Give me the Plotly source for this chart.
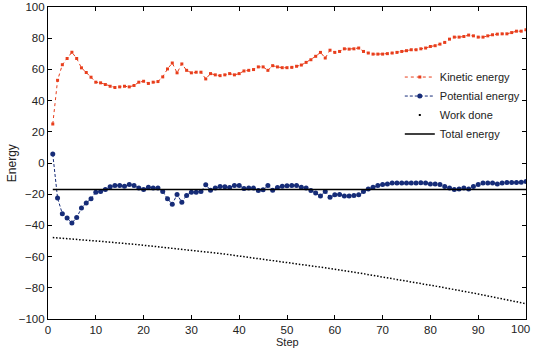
import plotly.graph_objects as go

steps = list(range(1, 101))

kinetic = [25, 53, 63, 67, 71, 67, 61, 58, 55, 51.8,
           51.4, 50.3, 49.2, 48.4, 48.8, 49.2, 48.8, 49.7, 51.8, 52.4,
           51, 51.8, 52.2, 55.2, 60.3, 64.1, 57.8, 63.5, 59.4, 57.8,
           58.2, 58.2, 53.9, 57.3, 56.5, 56, 56.5, 57.3, 56.5, 57.3,
           59, 59.4, 59.9, 61.6, 61.6, 59.4, 62.4, 61.6, 61.1, 61.1,
           61.3, 62, 62.8, 64.5, 66.2, 68.4, 70.9, 67.3, 72.3, 70.9,
           71.5, 73.2, 73, 73.2, 73.7, 71.5, 70.5, 69.8, 69.8, 69.8,
           70.1, 70.5, 70.9, 71.5, 72, 72.6, 72.6, 73.2, 73.7, 74.7,
           75.2, 76.2, 77.3, 79.4, 80.7, 80.7, 81.1, 82, 81.5, 80.7,
           80.7, 81.5, 82.2, 82.6, 82.8, 82.8, 83.6, 84.5, 84.5, 85.4]

potential = [5.7, -22.5, -32.5, -35.2, -38.4, -35, -28.9, -25.7, -22.9, -18.7,
             -18.3, -17, -15.3, -14.4, -14.4, -14.9, -13.8, -14.4, -16.1, -17,
             -15.5, -16, -16, -18.3, -22.9, -26.5, -20.2, -25.1, -20.8, -18.7,
             -18.7, -18.3, -14, -17.4, -16.1, -15.1, -15.3, -15.7, -14.4, -14.4,
             -16.3, -16.1, -16.1, -17.6, -17.2, -14.4, -17.4, -15.7, -14.9, -14.6,
             -14.4, -14.4, -15.5, -16.1, -17.6, -19.3, -21.2, -18.3, -21.9, -20.4,
             -20.2, -21.2, -21.2, -20.8, -20.4, -18.3, -16.6, -15.5, -14.4, -13.8,
             -13.4, -12.9, -12.9, -12.9, -12.9, -12.9, -12.9, -12.7, -12.9, -13.4,
             -13.4, -13.8, -15.1, -16, -17, -16.6, -16, -16.6, -15.1, -13.8,
             -12.9, -12.9, -12.9, -13.4, -12.9, -12.5, -12.5, -12.5, -12.3, -11.9]

work_done = [-47.8, -48.0, -48.2, -48.5, -48.7, -48.9, -49.2, -49.4, -49.7, -49.9,
             -50.2, -50.5, -50.7, -51.0, -51.3, -51.6, -51.8, -52.1, -52.4, -52.7,
             -53.0, -53.3, -53.6, -54.0, -54.3, -54.6, -54.9, -55.2, -55.6, -55.9,
             -56.3, -56.6, -57.0, -57.3, -57.7, -58.0, -58.4, -58.8, -59.2, -59.5,
             -59.9, -60.3, -60.7, -61.1, -61.5, -61.9, -62.3, -62.8, -63.2, -63.6,
             -64.0, -64.5, -64.9, -65.3, -65.8, -66.2, -66.7, -67.1, -67.6, -68.1,
             -68.5, -69.0, -69.5, -70.0, -70.5, -71.0, -71.5, -72.0, -72.5, -73.0,
             -73.5, -74.0, -74.5, -75.0, -75.6, -76.1, -76.6, -77.2, -77.7, -78.3,
             -78.8, -79.4, -80.0, -80.5, -81.1, -81.7, -82.3, -82.8, -83.4, -84.0,
             -84.6, -85.2, -85.8, -86.4, -87.1, -87.7, -88.3, -88.9, -89.6, -90.2]

total = [-17.0] * 100

x_ticks = [0, 10, 20, 30, 40, 50, 60, 70, 80, 90, 100]
y_ticks = [-100, -80, -60, -40, -20, 0, 20, 40, 60, 80, 100]

red = "rgb(232,62,28)"
navy = "rgb(22,44,120)"
font_family = "Liberation Sans, Arial"
text_color = "#222"
tick_size = 11.5

fig = go.Figure()
fig.add_trace(go.Scatter(x=steps, y=kinetic, mode="lines+markers", name="Kinetic energy",
                         line=dict(color=red, width=1, dash="dot"),
                         marker=dict(symbol="square", size=3, color=red)))
fig.add_trace(go.Scatter(x=steps, y=potential, mode="lines+markers", name="Potential energy",
                         line=dict(color=navy, width=1, dash="3px,2px"),
                         marker=dict(symbol="circle", size=5, color=navy)))
fig.add_trace(go.Scatter(x=steps, y=work_done, mode="lines", name="Work done",
                         line=dict(color="black", width=1.5, dash="1.5px,1.8px"), showlegend=False))
fig.add_trace(go.Scatter(x=[None], y=[None], mode="markers", name="Work done",
                         marker=dict(symbol="square", size=2, color="black")))
fig.add_trace(go.Scatter(x=steps, y=total, mode="lines", name="Total energy",
                         line=dict(color="black", width=1.5)))

axis_common = dict(showgrid=False, zeroline=False, showline=True, linecolor="black",
                   linewidth=1.2, mirror="ticks", ticks="inside", ticklen=4,
                   tickcolor="black", automargin=False,
                   tickfont=dict(family=font_family, size=tick_size, color=text_color))

# last x tick label sits on the paper edge; plotly would drop it, so draw it as text
x_label_vals = x_ticks[:-1]
fig.add_annotation(x=x_ticks[-1], y=0, xref="x", yref="paper", yanchor="top",
                   xanchor="right", xshift=6, yshift=-2, text=str(x_ticks[-1]),
                   showarrow=False,
                   font=dict(family=font_family, size=tick_size, color=text_color))
fig.add_annotation(x=0.5, y=0, xref="paper", yref="paper", yanchor="bottom",
                   yshift=-30, text="Step", showarrow=False, borderpad=0,
                   font=dict(family=font_family, size=11, color=text_color))
fig.add_annotation(x=-0.075, y=0.5, xref="paper", yref="paper", xanchor="center",
                   yanchor="middle", text="Energy", textangle=-90, showarrow=False,
                   font=dict(family=font_family, size=12, color=text_color))

fig.update_layout(
    width=533, height=349,
    margin=dict(l=48, r=7, t=7, b=30),
    paper_bgcolor="white", plot_bgcolor="white",
    font=dict(family=font_family, size=12, color=text_color),
    xaxis=dict(range=[0, 100], tickvals=x_label_vals, **axis_common),
    yaxis=dict(range=[-100, 100], tickvals=y_ticks, **axis_common),
    legend=dict(x=0.736, y=0.822, xanchor="left", yanchor="top",
                bgcolor="rgba(255,255,255,0)", borderwidth=0,
                font=dict(size=11), itemwidth=30, tracegroupgap=0),
    showlegend=True,
)

fig.write_html("out.html")
